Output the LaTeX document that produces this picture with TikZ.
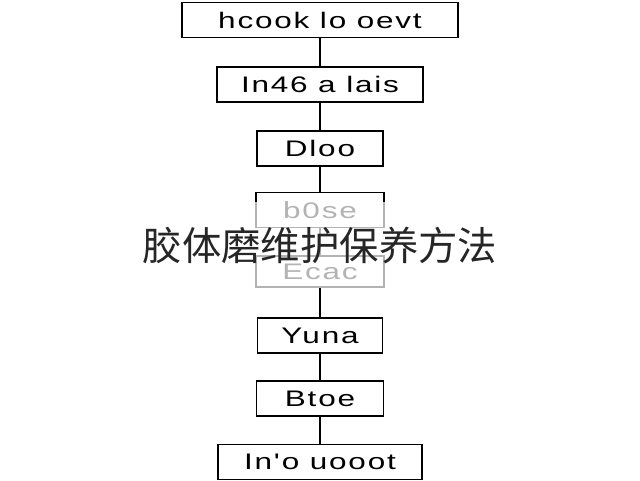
\documentclass[tikz,border=0pt]{standalone}
\usepackage{fontspec}
\setmainfont{Liberation Sans}
\newfontfamily\boxfont[FakeStretch=1.4,LetterSpace=8]{Liberation Sans}
\newfontfamily\cjk{Noto Sans CJK SC}

\begin{document}
\begin{tikzpicture}[
    stepbox/.style={draw, line width=1.1pt, inner sep=0pt, minimum height=0.88cm,
        font=\boxfont\fontsize{16}{20}\selectfont},
    link/.style={line width=1.1pt}
]

    % Fix the size of the page
    \useasboundingbox (0,0) rectangle (16,12);

    % Draw the boxes of the chart
    \node[stepbox, minimum width=6.9cm]   (b1) at (8,11.5)   {hcook lo oevt};
    \node[stepbox, minimum width=5.15cm]  (b2) at (8,9.8875) {In46 a lais};
    \node[stepbox, minimum width=3.15cm]  (b3) at (8,8.2875) {Dloo};
    \node[stepbox, minimum width=3.2cm]   (b4) at (8,6.75)   {b0se};
    \node[stepbox, minimum width=3.2cm, minimum height=0.78cm] (b5) at (8,5.2125) {Ecac};
    \node[stepbox, minimum width=3.125cm] (b6) at (8,3.6125) {Yuna};
    \node[stepbox, minimum width=3.175cm] (b7) at (8,2.0375) {Btoe};
    \node[stepbox, minimum width=5.1cm]   (b8) at (8,0.45)   {In'o uooot};

    % Join the boxes
    \draw[link] (b1) -- (b2);
    \draw[link] (b2) -- (b3);
    \draw[link] (b3) -- (b4);
    \draw[link] (b4) -- (b5);
    \draw[link] (b5) -- (b6);
    \draw[link] (b6) -- (b7);
    \draw[link] (b7) -- (b8);

    % Title over the middle of the chart
    \node[fill=white, fill opacity=0.7, text opacity=1, inner xsep=2pt,
        minimum height=2.15cm, font=\cjk\fontsize{28}{32}\selectfont,
        text=black!85] (title) at (8,5.875) {胶体磨维护保养方法};

\end{tikzpicture}
\end{document}
